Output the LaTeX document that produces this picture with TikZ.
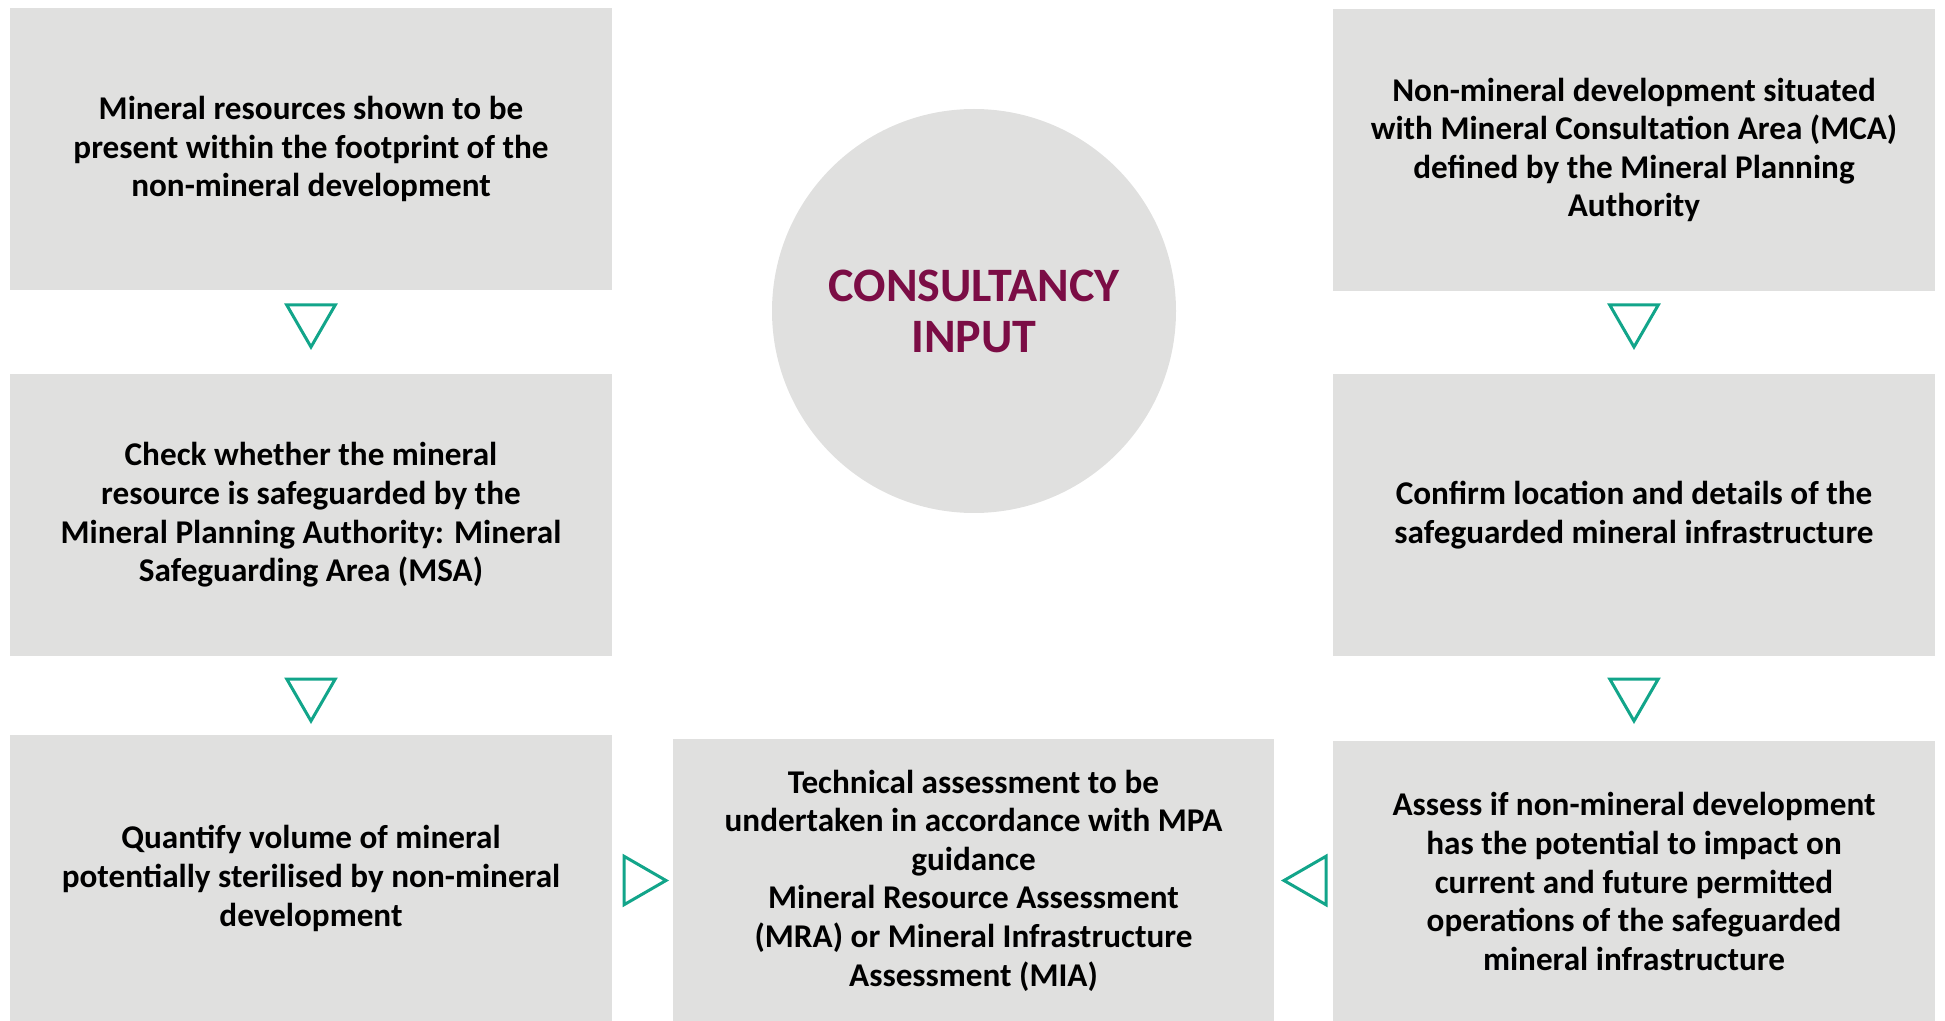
\documentclass[tikz,border=0pt]{standalone}
\usepackage{fontspec}
\setmainfont{Carlito}
\usetikzlibrary{shapes.geometric}
\definecolor{boxgray}{HTML}{E0E0DF}
\definecolor{tealgreen}{HTML}{12A58A}
\definecolor{plum}{HTML}{7B0D45}
\tikzset{
  stepbox/.style={fill=boxgray, inner sep=0pt, minimum width=301pt, minimum height=141pt,
    align=center, font=\bfseries\fontsize{16.6}{19.3}\selectfont},
  hub/.style={circle, fill=boxgray, inner sep=0pt, minimum size=202pt, align=center,
    text=plum, font=\bfseries\fontsize{24}{25.5}\selectfont},
  tri/.style={regular polygon, regular polygon sides=3, draw=tealgreen, line width=1.5pt,
    inner sep=0pt, minimum size=28pt},
}
\begin{document}
\begin{tikzpicture}[x=0.5pt,y=-0.5pt]
    \useasboundingbox (0,0) rectangle (1945,1021);
    % left column
    \node[stepbox] (lt) at (311,149) {Mineral resources shown to be\\present within the footprint of the\\non-mineral development};
    \node[stepbox] (lm) at (311,515) {Check whether the mineral\\resource is safeguarded by the\\Mineral Planning Authority: Mineral\\Safeguarding Area (MSA)};
    \node[stepbox, minimum height=143.5pt] (lb) at (311,878.5) {Quantify volume of mineral\\potentially sterilised by non-mineral\\development};
    % centre
    \node[hub] (hub) at (974,311) {CONSULTANCY\\INPUT};
    \node[stepbox, minimum width=300.5pt, minimum height=141.5pt] (cb) at (973.5,880.5) {Technical assessment to be\\undertaken in accordance with MPA\\guidance\\Mineral Resource Assessment\\(MRA) or Mineral Infrastructure\\Assessment (MIA)};
    % right column
    \node[stepbox] (rt) at (1634,150) {Non-mineral development situated\\with Mineral Consultation Area (MCA)\\defined by the Mineral Planning\\Authority};
    \node[stepbox] (rm) at (1634,515) {Confirm location and details of the\\safeguarded mineral infrastructure};
    \node[stepbox, minimum height=140.5pt] (rb) at (1634,881.5) {Assess if non-mineral development\\has the potential to impact on\\current and future permitted\\operations of the safeguarded\\mineral infrastructure};
    % markers
    \node[tri, shape border rotate=180] (t1) at (311,319) {};
    \node[tri, shape border rotate=180] (t2) at (311,693) {};
    \node[tri, shape border rotate=180] (t3) at (1634,319) {};
    \node[tri, shape border rotate=180] (t4) at (1634,693) {};
    \node[tri, shape border rotate=-90] (t5) at (638,880.5) {};
    \node[tri, shape border rotate=90] (t6) at (1312,880.5) {};
\end{tikzpicture}
\end{document}
